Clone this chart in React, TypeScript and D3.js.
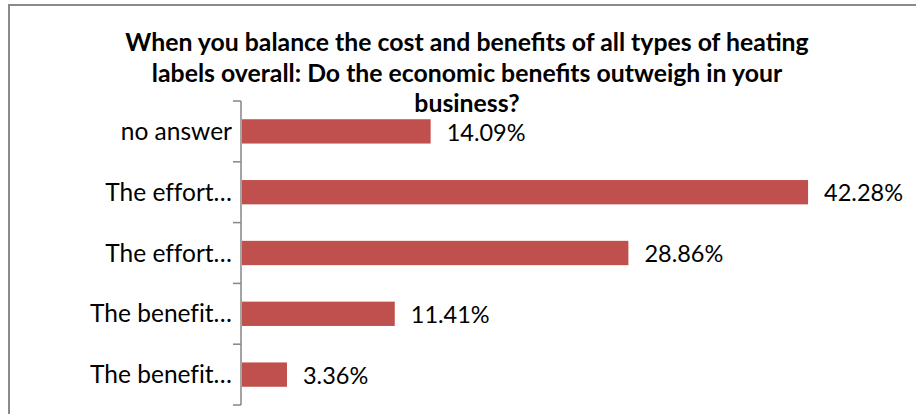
import React from "react";
import * as d3 from "d3";

const categories = ["no answer", "The effort…", "The effort…", "The benefit…", "The benefit…"];
const values = [14.09, 42.28, 28.86, 11.41, 3.36];
const titleLines = [
  "When you balance the cost and benefits of all types of heating",
  "labels overall: Do the economic benefits outweigh in your",
  "business?",
];

const W = 916;
const H = 414;
const FONT = "Lato, 'Open Sans', sans-serif";

export default function App() {
  const axisX = 241;
  const top = 101;
  const bottom = 405;
  const idx = categories.map((_, i) => i);
  const y = d3.scaleBand<number>().domain(idx).range([top, bottom]).paddingInner(0.6).paddingOuter(0.3);
  const yTick = d3.scaleBand<number>().domain(idx).range([top, bottom]).padding(0);
  const x = d3.scaleLinear().domain([0, 45]).range([axisX + 1, axisX + 1 + 602.5]);
  const fmt = (v: number) => v.toFixed(2) + "%";
  const tickYs = [...idx.map((i) => yTick(i)!), bottom];

  return (
    <svg
      width={W}
      height={H}
      style={{ position: "absolute", left: 0, top: 0, display: "block", background: "#fff" }}
    >
      <rect x={9} y={5} width={W + 10} height={H + 10} fill="#fff" stroke="#8a8a8a" strokeWidth={2} />
      {titleLines.map((t, i) => (
        <text
          key={i}
          x={467}
          y={51 + i * 30.5}
          textAnchor="middle"
          fontFamily={FONT}
          fontWeight="bold"
          fontSize={24.8}
          fill="#000"
        >
          {t}
        </text>
      ))}
      {idx.map((i) => (
        <rect
          key={"b" + i}
          x={x(0)}
          y={y(i)!}
          width={x(values[i]) - x(0)}
          height={y.bandwidth()}
          fill="#C0504D"
        />
      ))}
      <line x1={axisX} x2={axisX} y1={top} y2={bottom} stroke="#868686" strokeWidth={1.5} />
      {tickYs.map((ty, i) => (
        <line key={"t" + i} x1={axisX - 8} x2={axisX} y1={ty} y2={ty} stroke="#868686" strokeWidth={1.5} />
      ))}
      {idx.map((i) => (
        <text
          key={"c" + i}
          x={axisX - 9}
          y={y(i)! + y.bandwidth() / 2}
          dy="0.35em"
          textAnchor="end"
          fontFamily={FONT}
          fontSize={24.5}
          style={{ fontVariantLigatures: "none" }}
          fill="#000"
        >
          {categories[i]}
        </text>
      ))}
      {idx.map((i) => (
        <text
          key={"v" + i}
          x={x(values[i]) + 16}
          y={y(i)! + y.bandwidth() / 2 + 1}
          dy="0.35em"
          textAnchor="start"
          fontFamily={FONT}
          fontSize={23.5}
          fill="#000"
        >
          {fmt(values[i])}
        </text>
      ))}
    </svg>
  );
}
